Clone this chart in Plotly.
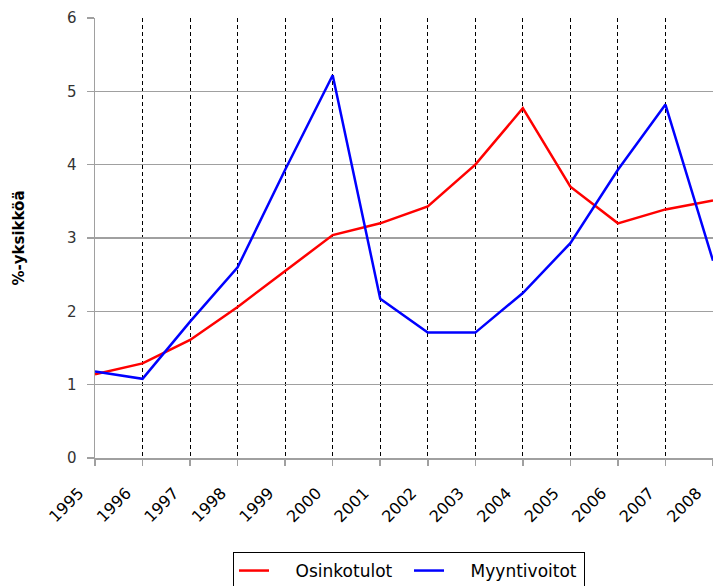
import plotly.graph_objects as go

years = [1995, 1996, 1997, 1998, 1999, 2000, 2001, 2002, 2003, 2004, 2005, 2006, 2007, 2008]
year_labels = [str(y) for y in years]
series_names = ["Osinkotulot", "Myyntivoitot"]
osinkotulot = [1.14, 1.29, 1.61, 2.06, 2.55, 3.04, 3.20, 3.43, 4.00, 4.77, 3.70, 3.20, 3.39, 3.51]
myyntivoitot = [1.18, 1.08, 1.86, 2.60, 3.93, 5.22, 2.17, 1.71, 1.71, 2.25, 2.93, 3.93, 4.82, 2.69]
y_ticks = [0, 1, 2, 3, 4, 5, 6]

pad = "\u00a0\u00a0\u00a0\u00a0"
fig = go.Figure()
fig.add_trace(go.Scatter(x=years, y=osinkotulot, mode="lines", name=pad + series_names[0],
                         line=dict(color="#ff0000", width=2.5), cliponaxis=False))
fig.add_trace(go.Scatter(x=years, y=myyntivoitot, mode="lines", name=pad + series_names[1],
                         line=dict(color="#0000ff", width=2.5), cliponaxis=False))

font_family = "DejaVu Sans"
fig.update_layout(
    width=713, height=586,
    margin=dict(l=95, r=0, t=18, b=128, pad=0, autoexpand=False),
    paper_bgcolor="white", plot_bgcolor="white",
    font=dict(family=font_family, size=12, color="#000000"),
    showlegend=True,
    legend=dict(orientation="h", x=(233 - 95) / 618, xanchor="left", y=-94 / 440, yanchor="top",
                bordercolor="#000000", borderwidth=1, bgcolor="white",
                font=dict(size=17, family=font_family, color="#000000"),
                entrywidth=130, entrywidthmode="pixels",
                traceorder="normal"),
    xaxis=dict(range=[1995, 2008], tickvals=years, ticktext=year_labels, tickangle=-45,
               showgrid=True, gridcolor="#000000", gridwidth=1, griddash="4px,3px",
               showline=True, linecolor="#a0a0a0", linewidth=1.5,
               ticks="outside", ticklen=6, tickcolor="#a0a0a0", tickwidth=1.5,
               zeroline=False, tickfont=dict(size=16, color="#000000"),
               ticklabelshift=-16, ticklabelstandoff=12, fixedrange=True, automargin=False),
    yaxis=dict(range=[0, 6], tickvals=y_ticks, showgrid=True, gridcolor="#a0a0a0", gridwidth=1.5,
               showline=True, linecolor="#a0a0a0", linewidth=1.5,
               ticks="outside", ticklen=7, tickcolor="#a0a0a0", tickwidth=1.5,
               zeroline=False, tickfont=dict(size=15, color="#333333"),
               ticklabelstandoff=7,
               title=dict(text="<b>%-yksikköä</b>", font=dict(size=15, color="#000000"), standoff=38),
               fixedrange=True, automargin=False),
)

fig.write_html(
    "out.html",
    config={"displayModeBar": False, "staticPlot": True},
    post_script="document.body.style.margin='0';document.body.style.overflow='hidden';",
)
